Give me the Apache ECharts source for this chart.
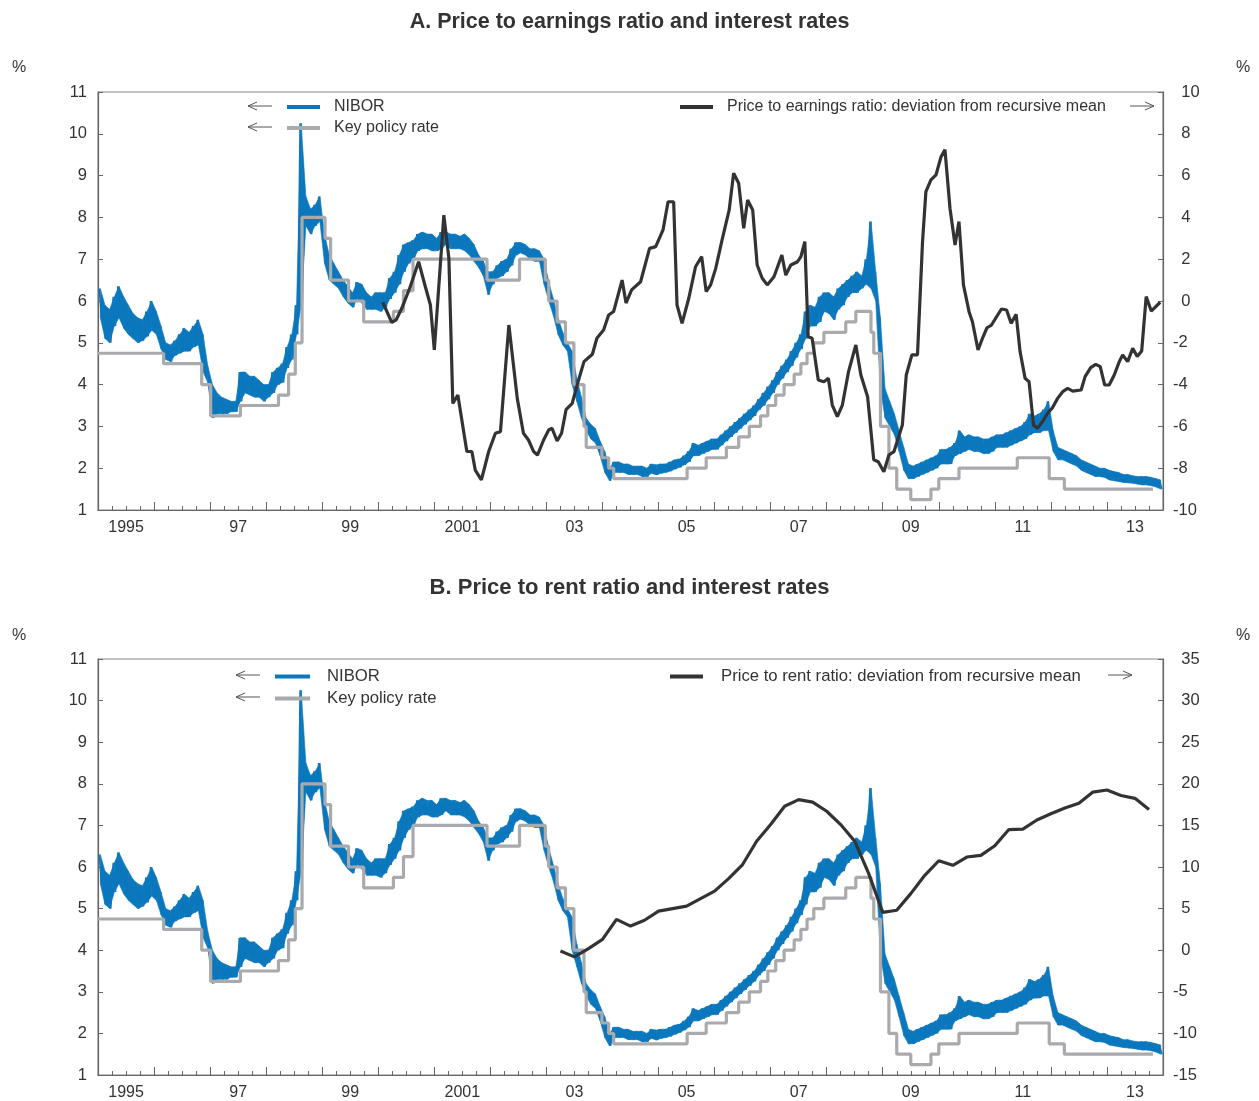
<!DOCTYPE html>
<html>
<head>
<meta charset="utf-8">
<script src="https://cdn.jsdelivr.net/npm/echarts@6/dist/echarts.min.js"></script>
<style>
html, body { margin: 0; background: #fff; }
#chart { width: 1259px; height: 1101px; }
</style>
</head>
<body>
<div id="chart"></div>
<script>
// NIBOR, monthly high / low of the daily band, Jan 1995 - Dec 2013
var niborHigh = [
	6.3, 5.9, 5.8, 6.1, 6.35, 6.1, 5.9, 5.7, 5.6, 5.55, 5.75, 6.0,
	5.75, 5.4, 5.0, 4.95, 5.05, 5.2, 5.35, 5.25, 5.4, 5.55, 5.2, 4.45,
	4.0, 3.8, 3.7, 3.65, 3.6, 3.6, 4.3, 4.3, 4.2, 4.2, 4.1, 4.0,
	4.0, 4.3, 4.4, 4.5, 4.9, 5.2, 5.9, 10.25, 8.5, 8.2, 8.3, 8.5,
	7.6, 7.1, 6.9, 6.7, 6.5, 6.35, 6.2, 6.45, 6.4, 6.2, 6.1, 6.2,
	6.2, 6.2, 6.55, 6.7, 7.1, 7.35, 7.4, 7.45, 7.6, 7.65, 7.6, 7.6,
	7.5, 7.65, 7.65, 7.6, 7.6, 7.55, 7.6, 7.5, 7.35, 7.1, 6.95, 6.7,
	6.7, 6.85, 6.95, 7.0, 7.25, 7.4, 7.4, 7.35, 7.25, 7.25, 7.2, 7.0,
	6.45, 6.05, 5.6, 5.25, 5.0, 4.8, 4.15, 3.7, 3.2, 3.05, 2.95, 2.65,
	2.4, 2.0, 2.15, 2.15, 2.1, 2.1, 2.05, 2.05, 2.05, 2.0, 2.1, 2.08,
	2.1, 2.1, 2.15, 2.2, 2.22, 2.3, 2.4, 2.6, 2.55, 2.6, 2.65, 2.7,
	2.7, 2.8, 2.9, 3.0, 3.1, 3.2, 3.3, 3.4, 3.5, 3.65, 3.8, 3.95,
	4.1, 4.3, 4.45, 4.6, 4.8, 5.0, 5.2, 5.75, 5.9, 5.85, 6.1, 6.2,
	6.2, 6.1, 6.3, 6.4, 6.5, 6.6, 6.7, 6.6, 7.0, 7.9, 6.7, 5.6,
	3.9, 3.6, 3.3, 2.9, 2.5, 2.1, 2.05, 2.1, 2.15, 2.2, 2.25, 2.3,
	2.45, 2.45, 2.5, 2.6, 2.9, 2.75, 2.8, 2.75, 2.75, 2.7, 2.7, 2.75,
	2.8, 2.8, 2.85, 2.9, 2.95, 3.0, 3.1, 3.3, 3.25, 3.3, 3.4, 3.6,
	2.9, 2.5, 2.45, 2.4, 2.35, 2.3, 2.2, 2.15, 2.1, 2.05, 2.0, 2.0,
	1.95, 1.92, 1.9, 1.85, 1.85, 1.82, 1.8, 1.8, 1.8, 1.78, 1.75, 1.72
];
var niborLow = [
	5.6, 5.1, 5.0, 5.4, 5.6, 5.35, 5.2, 5.1, 5.0, 5.05, 5.15, 5.3,
	5.2, 4.85, 4.6, 4.55, 4.7, 4.75, 4.8, 4.8, 4.9, 4.95, 4.3, 4.05,
	3.2, 3.3, 3.3, 3.3, 3.35, 3.35, 3.6, 3.8, 3.75, 3.7, 3.7, 3.6,
	3.7, 3.8, 4.0, 4.05, 4.4, 4.6, 5.2, 5.9, 7.8, 7.6, 7.8, 7.9,
	6.9, 6.5, 6.4, 6.3, 6.1, 5.95, 5.85, 6.05, 5.95, 5.8, 5.8, 5.8,
	5.75, 5.85, 6.05, 6.2, 6.4, 6.7, 6.9, 7.0, 7.2, 7.25, 7.25, 7.2,
	7.2, 7.25, 7.35, 7.25, 7.25, 7.25, 7.2, 7.1, 6.95, 6.8, 6.6, 6.15,
	6.4, 6.55, 6.6, 6.7, 6.85, 7.1, 7.15, 7.1, 7.0, 6.95, 6.95, 6.4,
	6.0, 5.65, 5.2, 4.95, 4.8, 4.0, 3.6, 3.2, 2.9, 2.7, 2.6, 2.3,
	1.9, 1.7, 1.9, 1.9, 1.9, 1.85, 1.85, 1.85, 1.8, 1.8, 1.88, 1.84,
	1.88, 1.9, 1.93, 1.98, 2.02, 2.08, 2.15, 2.3, 2.3, 2.35, 2.4, 2.45,
	2.45, 2.55, 2.65, 2.75, 2.85, 2.95, 3.05, 3.15, 3.25, 3.4, 3.5, 3.65,
	3.8, 4.0, 4.15, 4.3, 4.45, 4.65, 4.85, 5.1, 5.4, 5.4, 5.5, 5.75,
	5.7, 5.55, 5.8, 5.9, 6.1, 6.2, 6.2, 6.3, 6.4, 6.3, 6.0, 3.9,
	3.2, 3.0, 2.8, 2.4, 1.95, 1.75, 1.75, 1.8, 1.85, 1.9, 1.95, 2.0,
	2.1, 2.1, 2.1, 2.3, 2.35, 2.4, 2.45, 2.4, 2.4, 2.35, 2.35, 2.4,
	2.5, 2.5, 2.5, 2.55, 2.6, 2.65, 2.7, 2.8, 2.85, 2.85, 2.9, 2.9,
	2.4, 2.2, 2.2, 2.15, 2.1, 2.05, 1.95, 1.9, 1.85, 1.8, 1.8, 1.78,
	1.72, 1.7, 1.68, 1.66, 1.65, 1.64, 1.62, 1.6, 1.6, 1.58, 1.55, 1.5
];

// key policy rate: date of each change (decimal year) and new rate
var policyDates = [1995.0, 1996.17, 1996.85, 1997.01, 1997.54, 1998.22, 1998.40, 1998.52, 1998.64,
	1999.05, 1999.15, 1999.47, 1999.74, 2000.27, 2000.45, 2000.62, 2001.94, 2002.52, 2002.98,
	2003.04, 2003.19, 2003.34, 2003.49, 2003.67, 2003.71, 2003.99, 2004.11, 2004.20, 2005.51,
	2005.85, 2006.21, 2006.43, 2006.62, 2006.82, 2006.95, 2007.09, 2007.24, 2007.42, 2007.54,
	2007.65, 2007.77, 2007.95, 2008.34, 2008.52, 2008.79, 2008.84, 2008.96, 2009.11, 2009.25,
	2009.50, 2009.86, 2010.00, 2010.36, 2011.40, 2011.97, 2012.24, 2013.82];
var policyRates = [4.75, 4.5, 4.0, 3.25, 3.5, 3.75, 4.25, 5.0, 8.0,
	7.5, 6.5, 6.0, 5.5, 5.75, 6.25, 7.0, 6.5, 7.0, 6.5,
	6.0, 5.5, 5.0, 4.0, 3.0, 2.5, 2.25, 2.0, 1.75, 2.0,
	2.25, 2.5, 2.75, 3.0, 3.25, 3.5, 3.75, 4.0, 4.25, 4.5,
	4.75, 5.0, 5.25, 5.5, 5.75, 5.25, 4.75, 3.0, 2.0, 1.5,
	1.25, 1.5, 1.75, 2.0, 2.25, 1.75, 1.5, 1.5];

// price to earnings ratio, deviation from recursive mean
var peDates = [2000.08, 2000.24, 2000.32, 2000.42, 2000.57, 2000.72, 2000.84, 2000.93, 2001.00, 2001.17,
	2001.26, 2001.33, 2001.42, 2001.58, 2001.67, 2001.73, 2001.84, 2001.97, 2002.09, 2002.18,
	2002.33, 2002.48, 2002.59, 2002.68, 2002.77, 2002.84, 2002.95, 2003.04, 2003.10, 2003.19,
	2003.27, 2003.35, 2003.46, 2003.55, 2003.67, 2003.82, 2003.90, 2004.02, 2004.11, 2004.20,
	2004.35, 2004.42, 2004.52, 2004.68, 2004.84, 2004.95, 2005.08, 2005.17, 2005.27, 2005.33,
	2005.42, 2005.54, 2005.66, 2005.77, 2005.85, 2005.93, 2006.02, 2006.14, 2006.26, 2006.34,
	2006.43, 2006.52, 2006.59, 2006.68, 2006.76, 2006.85, 2006.94, 2007.06, 2007.20, 2007.27,
	2007.36, 2007.48, 2007.54, 2007.61, 2007.67, 2007.74, 2007.85, 2007.95, 2008.03, 2008.10,
	2008.19, 2008.28, 2008.39, 2008.52, 2008.61, 2008.73, 2008.84, 2008.92, 2009.02, 2009.11,
	2009.20, 2009.35, 2009.42, 2009.52, 2009.62, 2009.71, 2009.77, 2009.86, 2009.95, 2010.04,
	2010.11, 2010.20, 2010.29, 2010.36, 2010.44, 2010.54, 2010.60, 2010.70, 2010.78, 2010.86,
	2010.94, 2011.05, 2011.12, 2011.21, 2011.29, 2011.38, 2011.45, 2011.54, 2011.61, 2011.69,
	2011.76, 2011.85, 2011.94, 2012.03, 2012.12, 2012.21, 2012.30, 2012.39, 2012.54, 2012.61,
	2012.71, 2012.80, 2012.88, 2012.96, 2013.04, 2013.13, 2013.22, 2013.28, 2013.37, 2013.46,
	2013.54, 2013.62, 2013.70, 2013.79, 2013.95];
var peValues = [-0.06, -1.02, -0.9, -0.35, 0.68, 1.88, 0.68, -0.19, -2.34, 4.11,
	2.04, -4.9, -4.5, -7.2, -7.2, -8.09, -8.56, -7.2, -6.33, -6.25,
	-1.15, -4.66, -6.33, -6.65, -7.2, -7.37, -6.65, -6.17, -6.09, -6.7,
	-6.33, -5.2, -4.9, -4.0, -2.9, -2.55, -1.78, -1.39, -0.67, -0.5,
	1.0, -0.1, 0.53, 0.92, 2.52, 2.6, 3.4, 4.75, 4.75, -0.19,
	-1.07, 0.13, 1.64, 2.12, 0.45, 0.77, 1.56, 3.0, 4.35, 6.11,
	5.63, 3.48, 4.83, 4.35, 1.72, 1.09, 0.77, 1.16, 2.2, 1.24,
	1.72, 1.88, 2.12, 2.84, -1.71, -1.78, -3.78, -3.86, -3.7, -4.98,
	-5.53, -4.98, -3.38, -2.1, -3.54, -4.58, -7.6, -7.69, -8.17, -7.37,
	-7.21, -5.93, -3.54, -2.58, -2.58, 2.84, 5.23, 5.79, 6.03, 6.9,
	7.24, 4.43, 2.68, 3.8, 0.77, -0.51, -0.99, -2.34, -1.78, -1.28,
	-1.15, -0.67, -0.38, -0.43, -1.07, -0.64, -2.42, -3.7, -3.86, -5.93,
	-6.09, -5.77, -5.37, -5.1, -4.66, -4.34, -4.18, -4.31, -4.26, -3.62,
	-3.19, -3.03, -3.14, -4.02, -4.02, -3.54, -2.9, -2.58, -2.9, -2.26,
	-2.66, -2.39, 0.21, -0.48, -0.06];

// price to rent ratio, deviation from recursive mean, quarterly from 2003 Q1
var prStart = 2003.25;
var prValues = [-0.1, -0.8, 0.2, 1.3, 3.7, 2.9, 3.6, 4.7, 5.0, 5.3,
	6.2, 7.1, 8.6, 10.3, 13.1, 15.1, 17.3, 18.1, 17.8, 16.7,
	15.1, 13.1, 9.2, 4.55, 4.8, 6.8, 9.0, 10.75, 10.2, 11.2,
	11.4, 12.55, 14.5, 14.55, 15.65, 16.4, 17.1, 17.65, 19.0, 19.25,
	18.6, 18.25, 16.9];

var yearLabels = [1995.5, 1997.5, 1999.5, 2001.5, 2003.5, 2005.5, 2007.5, 2009.5, 2011.5, 2013.5];

var FONT = 'Liberation Sans';
var BLUE = '#0b77bd', GREY = '#a9aaad', DARK = '#333333';
var chart = echarts.init(document.getElementById('chart'));

// zigzag between the monthly high and low gives the ragged daily look,
// a filled band between the same high and low fills it in
var niborData = [], niborBand = [];
for (let i = 0; i < niborHigh.length; i++) {
	niborData.push([1995 + (i + 0.25) / 12, niborHigh[i]]);
	niborData.push([1995 + (i + 0.75) / 12, niborLow[i]]);
	niborBand.push([1995 + (i + 0.5) / 12, niborLow[i], niborHigh[i]]);
}
var policyData = policyDates.map((d, i) => [d, policyRates[i]]);
var peData = peDates.map((d, i) => [d, peValues[i]]);
var prData = prValues.map((v, i) => [prStart + i * 0.25, v]);

function xAxisCfg(g) {
	return {
		type: 'value', gridIndex: g, min: 1995, max: 2014, interval: 1,
		axisLine: { onZero: false, lineStyle: { color: '#666', width: 1.2 } },
		axisTick: { inside: true, length: 8, lineStyle: { color: '#666' } },
		minorTick: { show: true, splitNumber: 4, length: 4, lineStyle: { color: '#666' } },
		splitLine: { show: false },
		axisLabel: {
			customValues: yearLabels, margin: 10, color: '#333', fontFamily: FONT, fontSize: 16,
			formatter: function(v) {
				let y = Math.floor(v);
				return (y == 1995 || y == 2001) ? String(y) : String(y).slice(2);
			}
		}
	};
}
function yAxisCfg(g, pos, min, max, step) {
	return {
		type: 'value', gridIndex: g, position: pos, min: min, max: max, interval: step,
		axisLine: { show: true, onZero: false, lineStyle: { color: '#666', width: 1.2 } },
		axisTick: { show: true, inside: true, length: 5, lineStyle: { color: '#666' } },
		splitLine: { show: false },
		axisLabel: {
			margin: pos == 'left' ? 11 : 10, color: '#333', fontFamily: FONT, fontSize: 16.5,
			align: pos == 'left' ? 'right' : 'left',
			formatter: function(v) {
				if (pos == 'left') return String(v);
				return v < 0 ? String(v) : '\u2002' + v;
			}
		}
	};
}
function legendCfg(names, left, top, size, w, gap) {
	return {
		data: names, left: left, top: top, orient: 'vertical', itemGap: 5, padding: 0,
		icon: 'rect', itemWidth: w, itemHeight: 4, selectedMode: false,
		textStyle: { color: '#333', fontFamily: FONT, fontSize: size, padding: [0, 0, 0, gap] }
	};
}
function arrow(x, y, dir) {
	// thin arrow next to the legend, pointing to the axis it belongs to
	let x2 = x + 24 * dir;
	return {
		type: 'group', silent: true,
		children: [
			{ type: 'line', shape: { x1: x, y1: y, x2: x2, y2: y }, style: { stroke: '#555', lineWidth: 1 } },
			{ type: 'polyline', shape: { points: [[x2 - 9 * dir, y - 4], [x2, y], [x2 - 9 * dir, y + 4]] },
				style: { stroke: '#555', lineWidth: 1, fill: null } }
		]
	};
}
function pct(x, y) {
	return { type: 'text', left: x, top: y, style: { text: '%', fill: '#333', font: '16px ' + FONT } };
}
function lineSeries(name, data, xi, yi, color, width, z, step) {
	return {
		name: name, type: 'line', xAxisIndex: xi, yAxisIndex: yi, data: data,
		showSymbol: false, symbol: 'none', step: step || false, z: z,
		itemStyle: { color: color }, lineStyle: { color: color, width: width }
	};
}
function bandSeries(xi, yi) {
	return {
		name: 'NIBOR range', type: 'custom', xAxisIndex: xi, yAxisIndex: yi, data: niborBand,
		encode: { x: 0, y: [1, 2] }, clip: true, silent: true, z: 1,
		renderItem: function(params, api) {
			let i = params.dataIndexInside;
			if (i + 1 >= params.dataInsideLength) return;
			let pts = [
				api.coord([api.value(0), api.value(2)]),
				api.coord([api.value(0, i + 1), api.value(2, i + 1)]),
				api.coord([api.value(0, i + 1), api.value(1, i + 1)]),
				api.coord([api.value(0), api.value(1)])
			];
			return { type: 'polygon', shape: { points: pts }, style: { fill: BLUE, stroke: BLUE, lineWidth: 0.6 } };
		}
	};
}

var PE = 'Price to earnings ratio: deviation from recursive mean';
var PR = 'Price to rent ratio: deviation from recursive mean';

var option = {
	animation: false,
	textStyle: { fontFamily: FONT },
	title: [
		{ text: 'A. Price to earnings ratio and interest rates', left: 'center', top: 6,
			textStyle: { fontSize: 21.5, fontWeight: 'bold', color: '#333', fontFamily: FONT } },
		{ text: 'B. Price to rent ratio and interest rates', left: 'center', top: 572,
			textStyle: { fontSize: 22, fontWeight: 'bold', color: '#333', fontFamily: FONT } }
	],
	grid: [
		{ left: 98, top: 92, width: 1065, height: 418, show: true, borderColor: '#888', borderWidth: 1.2 },
		{ left: 98, top: 659, width: 1065, height: 418, show: true, borderColor: '#888', borderWidth: 1.2 }
	],
	xAxis: [xAxisCfg(0), xAxisCfg(1)],
	yAxis: [
		yAxisCfg(0, 'left', 1, 11, 1),
		yAxisCfg(0, 'right', -10, 10, 2),
		yAxisCfg(1, 'left', 1, 11, 1),
		yAxisCfg(1, 'right', -15, 35, 5)
	],
	legend: [
		legendCfg(['NIBOR', 'Key policy rate'], 287, 99, 16, 33, 9),
		legendCfg([PE], 680, 99, 16, 33, 9),
		legendCfg(['NIBOR', 'Key policy rate'], 275, 668, 16.7, 35, 12),
		legendCfg([PR], 670, 668, 16.7, 33, 13)
	],
	graphic: [
		arrow(272, 106, -1), arrow(272, 127, -1), arrow(1130, 106, 1),
		arrow(260, 675, -1), arrow(260, 697, -1), arrow(1108, 675, 1),
		pct(12, 60), pct(1236, 60), pct(12, 628), pct(1236, 628)
	],
	series: [
		bandSeries(0, 0),
		lineSeries('NIBOR', niborData, 0, 0, BLUE, 1.5, 2),
		lineSeries('Key policy rate', policyData, 0, 0, GREY, 3.2, 3, 'end'),
		lineSeries(PE, peData, 0, 1, DARK, 3.2, 4),
		bandSeries(1, 2),
		lineSeries('NIBOR', niborData, 1, 2, BLUE, 1.5, 2),
		lineSeries('Key policy rate', policyData, 1, 2, GREY, 3.2, 3, 'end'),
		lineSeries(PR, prData, 1, 3, DARK, 3.2, 4)
	]
};
chart.setOption(option);
</script>
</body>
</html>
